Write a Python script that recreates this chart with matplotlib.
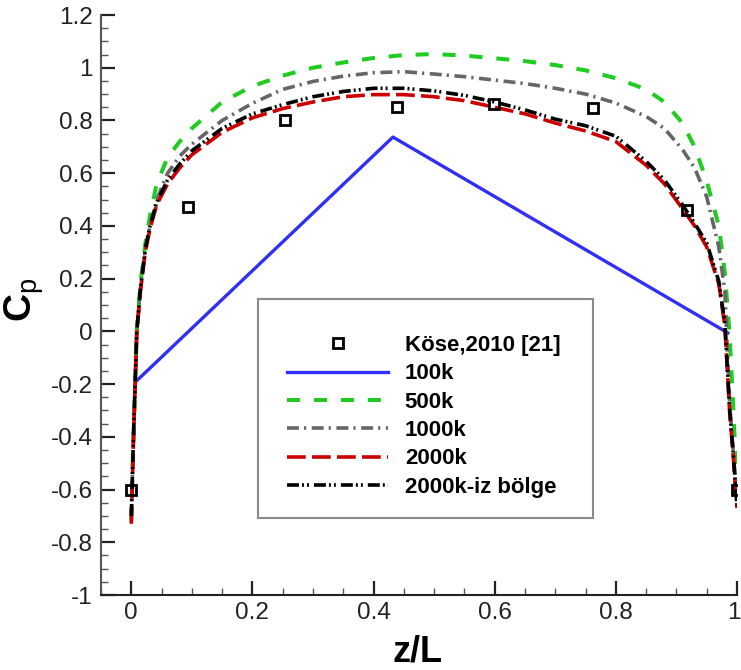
import matplotlib
matplotlib.use("Agg")
import matplotlib.pyplot as plt
import matplotlib.transforms as mtransforms
from matplotlib.patches import Rectangle
from matplotlib.ticker import MultipleLocator, FormatStrFormatter

plt.rcParams['font.family'] = ['Liberation Sans', 'DejaVu Sans']
plt.rcParams['axes.unicode_minus'] = False
plt.rcParams['lines.scale_dashes'] = False
plt.rcParams['mathtext.fontset'] = 'custom'
plt.rcParams['mathtext.rm'] = 'Liberation Sans'
plt.rcParams['mathtext.bf'] = 'Liberation Sans:bold'

# ---------------- data ----------------
kose_x = [0.0, 0.093, 0.253, 0.438, 0.598, 0.762, 0.917, 1.0]
kose_y = [-0.60, 0.47, 0.80, 0.85, 0.862, 0.846, 0.462, -0.60]

x100k = [0.01, 0.432, 0.985]
y100k = [-0.185, 0.737, -0.006]

xs = [0.0, 0.003, 0.006, 0.009, 0.015, 0.023, 0.031, 0.042, 0.06, 0.08,
      0.1, 0.15, 0.2, 0.25, 0.3, 0.35, 0.4, 0.45, 0.5, 0.55,
      0.6, 0.65, 0.7, 0.75, 0.8, 0.85, 0.88, 0.91, 0.93, 0.95,
      0.97, 0.98, 0.988, 0.994, 0.998, 1.0]

y500k = [-0.72, -0.45, -0.22, 0.0, 0.18, 0.33, 0.44, 0.56, 0.66, 0.72,
         0.77, 0.87, 0.93, 0.97, 1.0, 1.02, 1.037, 1.048, 1.052, 1.046,
         1.036, 1.025, 1.01, 0.99, 0.96, 0.918, 0.87, 0.79, 0.70, 0.57,
         0.40, 0.22, -0.02, -0.30, -0.50, -0.62]

y1000k = [-0.71, -0.45, -0.22, 0.0, 0.16, 0.31, 0.40, 0.50, 0.60, 0.665,
          0.71, 0.80, 0.865, 0.918, 0.948, 0.968, 0.981, 0.985, 0.976, 0.966,
          0.953, 0.94, 0.922, 0.90, 0.866, 0.815, 0.77, 0.69, 0.62, 0.51,
          0.32, 0.15, -0.28, -0.46, -0.59, -0.65]

y2000k = [-0.73, -0.46, -0.23, -0.01, 0.15, 0.30, 0.39, 0.48, 0.56, 0.62,
          0.67, 0.755, 0.81, 0.845, 0.87, 0.89, 0.898, 0.898, 0.89, 0.875,
          0.85, 0.825, 0.79, 0.76, 0.72, 0.63, 0.56, 0.465, 0.40, 0.32,
          0.18, 0.02, -0.31, -0.48, -0.61, -0.67]

y2000k_iz = [-0.70, -0.45, -0.22, 0.0, 0.16, 0.31, 0.40, 0.49, 0.575, 0.635,
             0.685, 0.77, 0.825, 0.86, 0.89, 0.91, 0.922, 0.922, 0.912, 0.895,
             0.87, 0.84, 0.805, 0.78, 0.74, 0.645, 0.575, 0.48, 0.41, 0.335,
             0.19, 0.03, -0.30, -0.47, -0.60, -0.66]

labels = ['Köse,2010 [21]', '100k', '500k', '1000k', '2000k', '2000k-iz bölge']
xticks = [0, 0.2, 0.4, 0.6, 0.8, 1]
yticks = [-1, -0.8, -0.6, -0.4, -0.2, 0, 0.2, 0.4, 0.6, 0.8, 1, 1.2]

# ---------------- figure ----------------
W, H = 741, 670
fig = plt.figure(figsize=(W / 100, H / 100), dpi=100)
ax = fig.add_axes([101 / W, 75 / H, (737 - 101) / W, (595 - 15) / H])

lw = 2.6
ax.plot(x100k, y100k, color='#2f2ff5', lw=2.4, ls='-', label=labels[1], zorder=2)
ax.plot(xs, y500k, color='#1fcc1f', lw=lw + 0.3, dashes=(9.4, 10), label=labels[2], zorder=3)
ax.plot(xs, y1000k, color='#666666', lw=lw, dashes=(8.6, 3.6, 1.6, 4.0), label=labels[3], zorder=4)
ax.plot(xs, y2000k, color='#cc0000', lw=lw, dashes=(13.5, 4.5), label=labels[4], zorder=5)
ax.plot(xs, y2000k_iz, color='black', lw=lw, dashes=(8.6, 2.2, 1.4, 2.2, 1.4, 3.6),
        label=labels[5], zorder=6)
ax.plot(kose_x, kose_y, ls='none', marker='s', ms=7, mfc='none', mec='black',
        mew=2.0, label=labels[0], zorder=7)

ax.set_xlim(-0.05, 1.0)
ax.set_ylim(-1.0, 1.2)

for s in ['top', 'right']:
    ax.spines[s].set_visible(False)
ax.spines['left'].set_color('#555555')
ax.spines['bottom'].set_color('#222222')
ax.spines['left'].set_linewidth(1.5)
ax.spines['bottom'].set_linewidth(1.5)

ax.set_xticks(xticks)
ax.set_yticks(yticks)
ax.xaxis.set_minor_locator(MultipleLocator(0.05))
ax.yaxis.set_minor_locator(MultipleLocator(0.05))
ax.xaxis.set_major_formatter(FormatStrFormatter('%g'))
ax.yaxis.set_major_formatter(FormatStrFormatter('%g'))
ax.tick_params(which='major', direction='in', length=10, width=1.6, color='#222222',
               labelsize=17.5, pad=6)
ax.tick_params(which='minor', direction='in', length=5, width=1.0, color='#555555')
ax.tick_params(axis='y', which='major', pad=6)
ax.tick_params(axis='x', which='major', pad=5)
for t in ax.get_xticklabels() + ax.get_yticklabels():
    t.set_color('#222222')

# keep the last x tick label inside the canvas
fig.canvas.draw()
last = ax.get_xticklabels()[-1]
last.set_transform(last.get_transform() +
                   mtransforms.ScaledTranslation(-3 / 100, 0, fig.dpi_scale_trans))

ax.set_xlabel('z/L', fontsize=26, fontweight='bold')
ax.xaxis.set_label_coords((418 - 101) / 636, (595 - 635) / 580)
ax.set_ylabel(r'$\mathbf{C}_{\mathrm{p}}$', fontsize=28)
ax.yaxis.set_label_coords((46 - 101) / 636, (595 - 300) / 580)

# legend frame
x0 = (258 - 101) / 636
x1 = (593 - 101) / 636
y0 = (595 - 518) / 580
y1 = (595 - 299) / 580
ax.add_patch(Rectangle((x0, y0), x1 - x0, y1 - y0, transform=ax.transAxes,
                       fill=True, facecolor='white', edgecolor='#8a8a8a', lw=1.5,
                       zorder=8, clip_on=False))

handles, labs = ax.get_legend_handles_labels()
order = [labs.index(l) for l in labels]
leg = ax.legend([handles[i] for i in order], [labs[i] for i in order],
                loc='upper left', bbox_to_anchor=((287 - 101) / 636, (595 - 335) / 580),
                frameon=False, borderpad=0, borderaxespad=0,
                handlelength=4.55, handletextpad=0.75, labelspacing=0.33,
                prop={'weight': 'bold', 'size': 16})
leg.set_zorder(9)

fig.savefig('out.png', dpi=100, facecolor='white')
